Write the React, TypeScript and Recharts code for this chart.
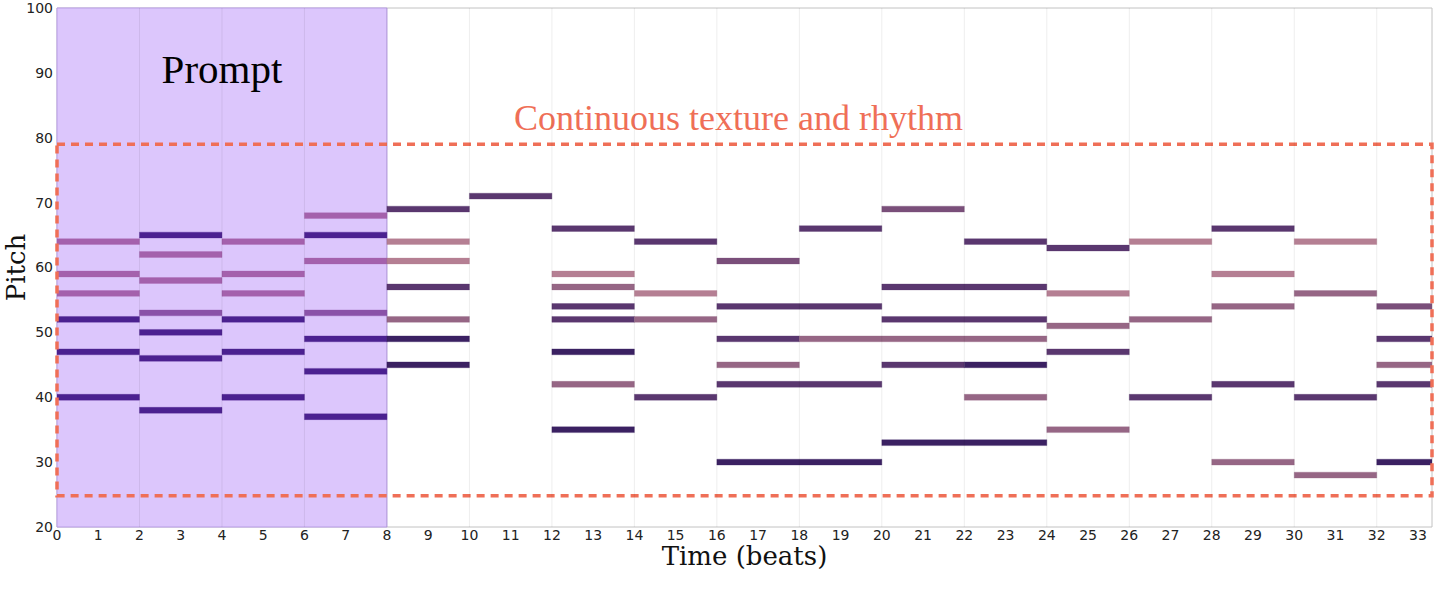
import React from 'react';
import {
  ComposedChart,
  XAxis,
  YAxis,
  ReferenceArea,
  ReferenceLine,
  Label,
} from 'recharts';

// [start beat, end beat, pitch, shade]
type Note = [number, number, number, number];

const xTicks = [0, 1, 2, 3, 4, 5, 6, 7, 8, 9, 10, 11, 12, 13, 14, 15, 16, 17, 18, 19, 20, 21, 22, 23, 24, 25, 26, 27, 28, 29, 30, 31, 32, 33];
const yTicks = [20, 30, 40, 50, 60, 70, 80, 90, 100];
const gridBeats = [2, 4, 6, 8, 10, 12, 14, 16, 18, 20, 22, 24, 26, 28, 30, 32];

// prompt: shade 0 = dark, 1 = medium, 2 = light
const promptNotes: Note[] = [
  [0, 2, 64, 2], [0, 2, 59, 2], [0, 2, 56, 2], [0, 2, 52, 0], [0, 2, 47, 0], [0, 2, 40, 0],
  [2, 4, 65, 0], [2, 4, 62, 2], [2, 4, 58, 2], [2, 4, 53, 1], [2, 4, 50, 0], [2, 4, 46, 0], [2, 4, 38, 0],
  [4, 6, 64, 2], [4, 6, 59, 2], [4, 6, 56, 2], [4, 6, 52, 0], [4, 6, 47, 0], [4, 6, 40, 0],
  [6, 8, 68, 2], [6, 8, 65, 0], [6, 8, 61, 2], [6, 8, 53, 1], [6, 8, 49, 0], [6, 8, 44, 0], [6, 8, 37, 0],
];

// generated continuation: shade 0 = darkest .. 4 = pink
const continuationNotes: Note[] = [
  [8, 10, 69, 1], [8, 10, 64, 4], [8, 10, 61, 4], [8, 10, 57, 1], [8, 10, 52, 3], [8, 10, 49, 0], [8, 10, 45, 0],
  [10, 12, 71, 1],
  [12, 14, 66, 1], [12, 14, 59, 4], [12, 14, 57, 3], [12, 14, 54, 1], [12, 14, 52, 1], [12, 14, 47, 0], [12, 14, 42, 3], [12, 14, 35, 0],
  [14, 16, 64, 1], [14, 16, 56, 4], [14, 16, 52, 3], [14, 16, 40, 1],
  [16, 18, 61, 2], [16, 20, 54, 1], [16, 18, 49, 1], [16, 18, 45, 3], [16, 20, 42, 1], [16, 20, 30, 0],
  [18, 20, 66, 1], [18, 24, 49, 3],
  [20, 22, 69, 2], [20, 24, 57, 1], [20, 24, 52, 1], [20, 22, 45, 1], [20, 24, 33, 0],
  [22, 24, 64, 1], [22, 24, 45, 0], [22, 24, 40, 3],
  [24, 26, 63, 1], [24, 26, 56, 4], [24, 26, 51, 3], [24, 26, 47, 1], [24, 26, 35, 3],
  [26, 28, 64, 4], [26, 28, 52, 3], [26, 28, 40, 1],
  [28, 30, 66, 1], [28, 30, 59, 4], [28, 30, 54, 3], [28, 30, 42, 1], [28, 30, 30, 3],
  [30, 32, 64, 4], [30, 32, 56, 3], [30, 32, 40, 1], [30, 32, 28, 3],
  [32, 34, 54, 2], [32, 34, 49, 1], [32, 34, 45, 3], [32, 34, 42, 1], [32, 34, 30, 0],
];

const promptColors = ['#4b2190', '#8a52a8', '#a461ac'];
const noteColors = ['#3b2162', '#5a376f', '#7a4f7a', '#966685', '#b57f93'];

const X_MAX = 33.34;
const ORANGE = '#ef6f57';

function XTitle(props: any) {
  const { viewBox } = props;
  return (
    <text
      x={viewBox.x + viewBox.width / 2}
      y={viewBox.y + 38}
      textAnchor="middle"
      fontFamily="DejaVu Serif"
      fontSize={26}
      fill="#111"
    >
      Time (beats)
    </text>
  );
}

function YTitle(props: any) {
  const { viewBox } = props;
  const cx = 16;
  const cy = viewBox.y + viewBox.height / 2;
  return (
    <text
      x={cx}
      y={cy}
      transform={`rotate(-90 ${cx} ${cy})`}
      textAnchor="middle"
      dominantBaseline="central"
      fontFamily="DejaVu Serif"
      fontSize={26}
      fill="#111"
    >
      Pitch
    </text>
  );
}

function renderNote(n: Note, i: number, palette: string[], key: string) {
  const color = palette[n[3]];
  return (
    <ReferenceArea
      key={key + i}
      x1={n[0]}
      x2={n[1]}
      y1={n[2] - 0.45}
      y2={n[2] + 0.45}
      fill={color}
      fillOpacity={1}
      stroke={color}
      strokeOpacity={0.3}
      strokeWidth={1}
      ifOverflow="hidden"
    />
  );
}

export default function App() {
  return (
    <div style={{ position: 'absolute', left: 0, top: 0, width: 1435, height: 590, background: '#fff' }}>
      <ComposedChart width={1435} height={590} margin={{ top: 8, right: 3, bottom: 0, left: 0 }}>
        <XAxis
          type="number"
          dataKey="x"
          domain={[0, X_MAX]}
          ticks={xTicks}
          interval={0}
          allowDataOverflow
          tickLine={false}
          tickSize={0}
          tickMargin={3}
          axisLine={false}
          height={63}
          tick={{ fill: '#222', fontSize: 14, fontFamily: 'DejaVu Sans' }}
        >
          <Label content={<XTitle />} />
        </XAxis>
        <YAxis
          type="number"
          dataKey="y"
          domain={[20, 100]}
          ticks={yTicks}
          interval={0}
          allowDataOverflow
          tickLine={false}
          tickSize={0}
          tickMargin={4}
          axisLine={false}
          width={57}
          tick={{ fill: '#222', fontSize: 14, fontFamily: 'DejaVu Sans' }}
        >
          <Label content={<YTitle />} />
        </YAxis>

        {/* plot frame */}
        <ReferenceArea x1={0} x2={X_MAX} y1={20} y2={100} fill="#fff" stroke="#c2c2c2" strokeWidth={1} />

        {/* prompt region */}
        <ReferenceArea
          x1={0}
          x2={8}
          y1={20}
          y2={100}
          fill="#dcc6fc"
          fillOpacity={1}
          stroke="#b89de6"
          strokeWidth={1}
          label={(p: any) => (
            <text
              x={p.viewBox.x + p.viewBox.width / 2}
              y={p.viewBox.y + 75}
              textAnchor="middle"
              fontFamily="Liberation Serif"
              fontSize={41}
              fill="#000"
            >
              Prompt
            </text>
          )}
        />

        {gridBeats.map((b) => (
          <ReferenceLine key={'g' + b} x={b} stroke="#000" strokeOpacity={0.07} strokeWidth={1} />
        ))}

        {promptNotes.map((n, i) => renderNote(n, i, promptColors, 'p'))}
        {continuationNotes.map((n, i) => renderNote(n, i, noteColors, 'c'))}

        {/* continuation box */}
        <ReferenceArea
          x1={0}
          x2={X_MAX}
          y1={24.8}
          y2={79}
          fill="none"
          stroke={ORANGE}
          strokeWidth={3.5}
          strokeDasharray="8 6"
          label={(p: any) => (
            <text
              x={p.viewBox.x + p.viewBox.width / 2 - 6}
              y={p.viewBox.y - 14}
              textAnchor="middle"
              fontFamily="Liberation Serif"
              fontSize={36}
              fill={ORANGE}
            >
              Continuous texture and rhythm
            </text>
          )}
        />
      </ComposedChart>
    </div>
  );
}
